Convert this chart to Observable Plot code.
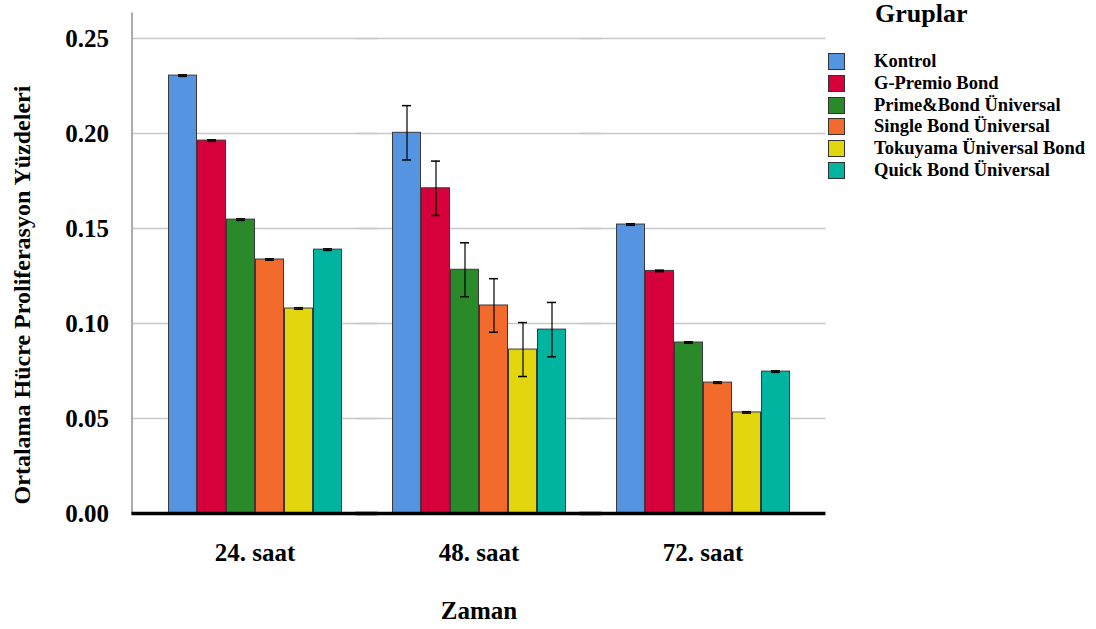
<!DOCTYPE html>
<html><head><meta charset="utf-8">
<script src="https://cdn.jsdelivr.net/npm/d3@7"></script>
<script src="https://cdn.jsdelivr.net/npm/@observablehq/plot@0.6"></script>
<style>
body{margin:0;background:#fff;overflow:hidden;}
#wrap{position:relative;width:1096px;height:629px;font-family:"Liberation Serif","Times New Roman",serif;font-weight:bold;color:#000;overflow:hidden;}
#ylab{position:absolute;left:22px;top:295px;transform:translate(-50%,-50%) rotate(-90deg);white-space:nowrap;font-size:24px;}
#legend{position:absolute;left:828px;top:0;}
#legend .title{position:absolute;left:47px;top:-1px;font-size:26px;white-space:nowrap;}
#legend .item{position:absolute;left:0;height:16px;white-space:nowrap;font-size:18.5px;line-height:16px;}
#legend .sw{position:absolute;left:0;top:0;width:15px;height:15px;border:1px solid #333;}
#legend .lbl{position:absolute;left:46px;top:0;}
</style>
</head><body>
<div id="wrap"><div id="ylab"></div><div id="legend"></div></div>
<script>
const times = ["24. saat", "48. saat", "72. saat"];
const groups = ["Kontrol", "G-Premio Bond", "Prime&Bond Üniversal", "Single Bond Üniversal", "Tokuyama Üniversal Bond", "Quick Bond Üniversal"];
const colors = ["#5594e0", "#d6003a", "#2a8a2a", "#f26a2c", "#e3d60f", "#00b4a0"];
const means24 = [0.2305, 0.1963, 0.1547, 0.1337, 0.1079, 0.1389];
const means48 = [0.2004, 0.1712, 0.1283, 0.1095, 0.0863, 0.0968];
const means72 = [0.1521, 0.1277, 0.0900, 0.0689, 0.0532, 0.0747];
const se24 = [0.0004, 0.0004, 0.0004, 0.0004, 0.0004, 0.0004];
const se48 = [0.0143, 0.0143, 0.0142, 0.0141, 0.0142, 0.0143];
const se72 = [0.0004, 0.0004, 0.0004, 0.0004, 0.0004, 0.0004];
const yTicks = [0, 0.05, 0.10, 0.15, 0.20, 0.25];
const gridTicks = [0.05, 0.10, 0.15, 0.20, 0.25];
const yTitle = "Ortalama Hücre Proliferasyon Yüzdeleri";
const xTitle = "Zaman";
const legendTitle = "Gruplar";

const means = [means24, means48, means72];
const ses = [se24, se48, se72];
const data = [];
times.forEach((t, i) => groups.forEach((g, j) => data.push({time: t, group: g, mean: means[i][j], se: ses[i][j]})));

const W = 1096, H = 629, mL = 131, mR = 270;
const pIn = 0.2205, pOut = 0.158;
const step = (W - mL - mR) / (times.length - pIn + 2 * pOut);
const ext = -step * pOut; // extend rules from each facet out to the full frame

const chart = Plot.plot({
  width: W, height: H,
  marginLeft: mL, marginRight: mR, marginTop: 13, marginBottom: 116,
  style: {fontFamily: "'Liberation Serif', 'Times New Roman', serif", fontWeight: "bold", fontSize: "24px", color: "#000", background: "transparent"},
  fx: {domain: times, paddingInner: pIn, paddingOuter: pOut, label: null},
  x: {domain: groups, padding: 0, axis: null},
  y: {domain: [0, 0.2632], label: null},
  color: {domain: groups, range: colors},
  marks: [
    Plot.ruleY(gridTicks, {stroke: "#c8c8c8", strokeWidth: 1.5, insetLeft: ext, insetRight: ext}),
    Plot.barY(data, {fx: "time", x: "group", y: "mean", fill: "group", stroke: "#3a3a3a", strokeWidth: 1, insetLeft: 0.5, insetRight: 0.5}),
    Plot.ruleX(data, {fx: "time", x: "group", y1: d => d.mean - d.se, y2: d => d.mean + d.se, stroke: "#000", strokeWidth: 1.2}),
    Plot.tickY(data, {fx: "time", x: "group", y: d => d.mean + d.se, insetLeft: 10, insetRight: 10, stroke: "#000", strokeWidth: 1.5}),
    Plot.tickY(data, {fx: "time", x: "group", y: d => d.mean - d.se, insetLeft: 10, insetRight: 10, stroke: "#000", strokeWidth: 1.5}),
    Plot.frame({anchor: "left", facet: "super", stroke: "#aaa", strokeWidth: 2, insetLeft: ext}),
    Plot.ruleY([0], {stroke: "#000", strokeWidth: 3.5, insetLeft: ext, insetRight: ext}),
    Plot.axisY({ticks: yTicks, tickFormat: d3.format(".2f"), tickSize: 0, tickPadding: 23 - ext, label: null, fontSize: 25}),
    Plot.axisFx({anchor: "bottom", tickSize: 0, tickPadding: 30, label: xTitle, labelAnchor: "center", labelOffset: 105, fontSize: 25})
  ]
});
const wrap = document.getElementById("wrap");
wrap.insertBefore(chart, wrap.firstChild);
chart.style.position = "absolute"; chart.style.left = "0"; chart.style.top = "0";
document.getElementById("ylab").textContent = yTitle;

const lg = document.getElementById("legend");
const tt = document.createElement("div"); tt.className = "title"; tt.textContent = legendTitle; lg.appendChild(tt);
groups.forEach((g, i) => {
  const it = document.createElement("div"); it.className = "item"; it.style.top = (53 + i * 21.8) + "px";
  const sw = document.createElement("div"); sw.className = "sw"; sw.style.background = colors[i];
  const lb = document.createElement("div"); lb.className = "lbl"; lb.textContent = g;
  it.appendChild(sw); it.appendChild(lb); lg.appendChild(it);
});
</script>
</body></html>
